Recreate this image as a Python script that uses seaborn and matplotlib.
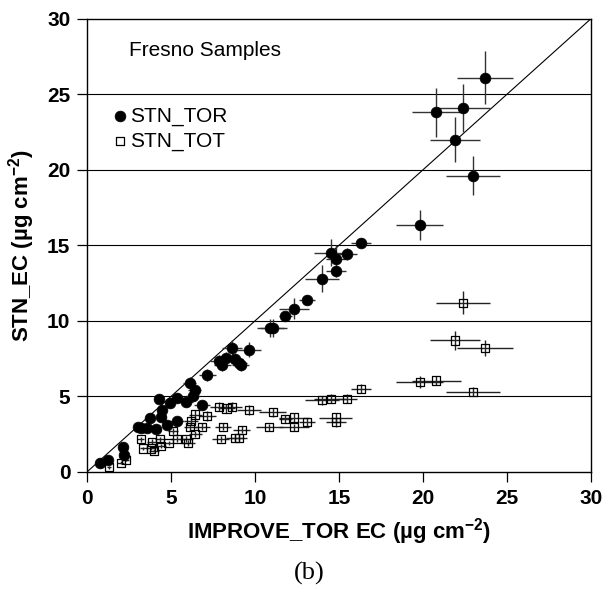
import matplotlib
matplotlib.use('Agg')
import numpy as np
import pandas as pd
import matplotlib.pyplot as plt
import seaborn as sns

# STN_TOR vs IMPROVE_TOR EC
tor_x = [23.7, 20.8, 22.4, 21.9, 23.0, 19.8, 16.3, 15.5, 14.5, 14.8, 14.8, 14.0,
         13.1, 12.3, 11.8, 10.9, 11.1, 9.65, 8.65, 7.85, 8.25, 8.8, 9.15, 9.05,
         8.05, 7.15, 6.1, 6.4, 6.3, 5.35, 4.3, 4.95, 5.9, 6.85, 4.45, 4.4,
         3.75, 5.35, 4.75, 3.05, 3.55, 4.1, 3.2, 2.15, 2.2, 1.25, 0.8]
tor_y = [26.1, 23.8, 24.1, 22.0, 19.6, 16.35, 15.15, 14.4, 14.5, 14.1, 13.3, 12.8,
         11.4, 10.8, 10.3, 9.5, 9.5, 8.1, 8.2, 7.35, 7.55, 7.5, 7.1, 7.2,
         7.1, 6.4, 5.9, 5.45, 5.0, 4.9, 4.85, 4.55, 4.65, 4.4, 4.1, 3.65,
         3.55, 3.35, 3.1, 2.95, 2.9, 2.85, 2.9, 1.65, 1.15, 0.8, 0.6]
tor_xerr = [1.65, 1.45, 1.6, 1.5, 1.6, 1.4, 0.6, 0.6, 1.0, 0.6, 0.6, 1.0,
            0.5, 0.9, 0.4, 0.8, 0.8, 0.7, 0.6, 0.5, 0.5, 0.5, 0.5, 0.5,
            0.5, 0.5, 0.4, 0.4, 0.4, 0.4, 0.3, 0.3, 0.4, 0.5, 0.3, 0.3,
            0.3, 0.4, 0.3, 0.2, 0.2, 0.3, 0.2, 0.2, 0.2, 0.1, 0.1]
tor_yerr = [1.75, 1.6, 1.6, 1.5, 1.3, 1.0, 0.3, 0.4, 0.9, 0.9, 0.4, 0.9,
            0.3, 0.7, 0.3, 0.6, 0.6, 0.5, 0.5, 0.4, 0.4, 0.4, 0.4, 0.4,
            0.4, 0.4, 0.4, 0.3, 0.3, 0.3, 0.3, 0.3, 0.3, 0.3, 0.3, 0.3,
            0.3, 0.2, 0.2, 0.2, 0.2, 0.2, 0.2, 0.2, 0.1, 0.1, 0.1]

# STN_TOT vs IMPROVE_TOR EC
tot_x = [23.7, 20.8, 22.4, 21.9, 23.0, 19.8, 16.3, 15.5, 14.5, 14.0, 14.8, 14.8,
         13.1, 12.3, 12.3, 11.8, 11.05, 10.85, 9.65, 8.65, 8.3, 7.85, 7.15, 8.1,
         9.2, 8.8, 9.05, 7.95, 6.45, 6.85, 6.2, 6.15, 6.45, 5.1, 5.9, 6.0,
         5.35, 4.85, 4.35, 4.4, 3.85, 4.0, 3.8, 3.35, 3.2, 2.3, 2.0, 1.3]
tot_y = [8.2, 6.05, 11.2, 8.7, 5.3, 5.95, 5.5, 4.85, 4.85, 4.75, 3.6, 3.3,
         3.3, 3.6, 2.95, 3.5, 3.95, 2.95, 4.1, 4.3, 4.2, 4.3, 3.7, 3.0,
         2.8, 2.25, 2.25, 2.15, 3.8, 3.0, 3.35, 2.95, 2.5, 2.7, 2.15, 1.9,
         2.15, 1.9, 2.15, 1.7, 2.0, 1.4, 1.55, 1.55, 2.15, 0.8, 0.6, 0.3]
tot_xerr = [1.65, 1.45, 1.6, 1.5, 1.6, 1.4, 0.6, 0.6, 1.0, 1.0, 1.0, 0.6,
            0.5, 0.9, 0.9, 0.4, 0.8, 0.8, 0.7, 0.6, 0.5, 0.5, 0.5, 0.5,
            0.5, 0.5, 0.5, 0.5, 0.4, 0.5, 0.4, 0.4, 0.4, 0.3, 0.4, 0.4,
            0.4, 0.3, 0.3, 0.3, 0.3, 0.3, 0.3, 0.2, 0.2, 0.2, 0.2, 0.1]
tot_yerr = [0.55, 0.3, 0.75, 0.6, 0.3, 0.4, 0.3, 0.3, 0.3, 0.3, 0.3, 0.3,
            0.25, 0.3, 0.25, 0.25, 0.3, 0.25, 0.3, 0.3, 0.3, 0.3, 0.3, 0.25,
            0.25, 0.2, 0.2, 0.2, 0.3, 0.25, 0.25, 0.25, 0.2, 0.2, 0.2, 0.2,
            0.2, 0.15, 0.15, 0.15, 0.15, 0.1, 0.1, 0.1, 0.15, 0.1, 0.1, 0.1]

ticks = [0, 5, 10, 15, 20, 25, 30]

sns.set_style('ticks')
plt.rcParams['font.family'] = ['Liberation Sans', 'DejaVu Sans']
plt.rcParams['mathtext.fontset'] = 'custom'
plt.rcParams['mathtext.rm'] = 'Liberation Sans'
plt.rcParams['mathtext.bf'] = 'Liberation Sans:bold'
plt.rcParams['text.color'] = 'black'
plt.rcParams['axes.labelcolor'] = 'black'
plt.rcParams['xtick.color'] = 'black'
plt.rcParams['ytick.color'] = 'black'

df_tor = pd.DataFrame({'x': tor_x, 'y': tor_y})
df_tot = pd.DataFrame({'x': tot_x, 'y': tot_y})

fig = plt.figure(figsize=(6.13, 6.05), dpi=100)
ax = fig.add_axes([0.142, 0.22, 0.822, 0.749])

# gridlines + 1:1 line
for t in ticks[1:-1]:
    ax.axhline(t, color='black', lw=0.8, zorder=1)
ax.plot([0, 30], [0, 30], color='black', lw=0.8, zorder=1)

# error bars
ax.errorbar(tot_x, tot_y, xerr=tot_xerr, yerr=tot_yerr, fmt='none',
            ecolor='#222222', elinewidth=1.0, capsize=0, zorder=2)
ax.errorbar(tor_x, tor_y, xerr=tor_xerr, yerr=tor_yerr, fmt='none',
            ecolor='#333333', elinewidth=1.0, capsize=0, zorder=2)

sns.scatterplot(data=df_tor, x='x', y='y', ax=ax, marker='o', s=60,
                color='black', edgecolor='black', linewidth=0.5,
                label='STN_TOR', zorder=3)
sns.scatterplot(data=df_tot, x='x', y='y', ax=ax, marker='s', s=34,
                facecolor='none', edgecolor='black', linewidth=0.9,
                label='STN_TOT', zorder=3)

ax.set_xlim(0, 30)
ax.set_ylim(0, 30)
ax.set_xticks(ticks)
ax.set_yticks(ticks)
ax.tick_params(direction='out', length=7, width=0.9, pad=5, labelsize=15)
for lab in ax.get_xticklabels() + ax.get_yticklabels():
    lab.set_fontweight('bold')
for sp in ax.spines.values():
    sp.set_linewidth(1.0)
    sp.set_color('black')

ax.set_xlabel(r'IMPROVE_TOR EC (µg cm$^{\mathbf{-2}}$)', fontsize=16,
              fontweight='bold', labelpad=6)
ax.set_ylabel(r'STN_EC (µg cm$^{\mathbf{-2}}$)', fontsize=16,
              fontweight='bold', labelpad=7)

ax.text(2.5, 27.9, 'Fresno Samples', fontsize=15, va='center')

leg = ax.legend(loc='upper left', bbox_to_anchor=(0.03, 0.825), frameon=False,
                fontsize=15, handletextpad=0.05, labelspacing=0.3,
                handlelength=0.9, borderaxespad=0)

fig.text(0.505, 0.052, '(b)', fontsize=19, family='Liberation Serif',
         ha='center', va='center')

fig.savefig('out.png', dpi=100)
